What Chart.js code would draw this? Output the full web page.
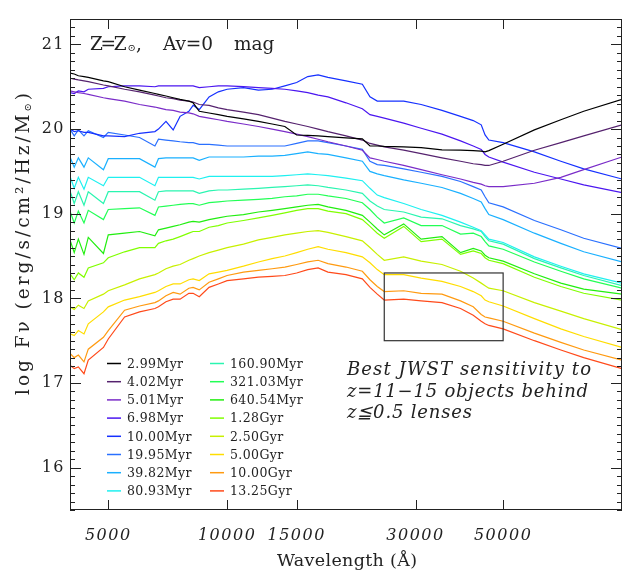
<!DOCTYPE html>
<html>
<head>
<meta charset="utf-8">
<script src="https://cdn.jsdelivr.net/npm/chart.js@4.4.1/dist/chart.umd.min.js"></script>
<style>
  html, body { margin: 0; padding: 0; background: #fff; }
  canvas { display: block; }
</style>
</head>
<body>
<canvas id="sed" width="636" height="576"></canvas>
<script>
// wavelength grid (Angstrom), shared by all spectra
const wavelengths = [4000, 4100, 4200, 4340, 4450, 4861, 5000, 5500, 6000, 6563,
  6700, 7000, 7300, 7600, 8000, 8200, 8500, 9000, 9500, 10000,
  11000, 12000, 13000, 14000, 15000, 16000, 17000, 18000, 20000, 22000,
  23000, 24000, 25000, 28000, 31000, 35000, 39000, 42000, 44000, 45000,
  46000, 50000, 60000, 70000, 80000, 100000];

// log F_nu per solar mass, one array per age
const age2_99 = [20.66, 20.65, 20.63, 20.62, 20.61, 20.57, 20.56, 20.50, 20.46, 20.42,
  20.41, 20.39, 20.37, 20.35, 20.33, 20.31, 20.21, 20.19, 20.17, 20.15,
  20.12, 20.09, 20.06, 20.03, 19.93, 19.925, 19.92, 19.91, 19.895, 19.885,
  19.80, 19.80, 19.795, 19.79, 19.78, 19.755, 19.75, 19.745, 19.74, 19.73,
  19.745, 19.82, 19.99, 20.11, 20.21, 20.35];
const age4_02 = [20.60, 20.59, 20.58, 20.57, 20.56, 20.52, 20.51, 20.47, 20.44, 20.40,
  20.39, 20.37, 20.36, 20.34, 20.33, 20.32, 20.29, 20.28, 20.25, 20.23,
  20.20, 20.17, 20.13, 20.09, 20.06, 20.03, 20.00, 19.97, 19.92, 19.87,
  19.83, 19.81, 19.79, 19.75, 19.71, 19.66, 19.62, 19.59, 19.58, 19.57,
  19.57, 19.62, 19.75, 19.84, 19.92, 20.05];
const age5_01 = [20.45, 20.44, 20.43, 20.42, 20.41, 20.37, 20.36, 20.33, 20.29, 20.26,
  20.25, 20.23, 20.22, 20.20, 20.19, 20.18, 20.15, 20.13, 20.11, 20.09,
  20.06, 20.03, 20.00, 19.97, 19.94, 19.91, 19.88, 19.85, 19.80, 19.75,
  19.66, 19.64, 19.62, 19.57, 19.52, 19.46, 19.41, 19.37, 19.35, 19.33,
  19.32, 19.32, 19.36, 19.43, 19.52, 19.67];
const age6_98 = [20.43, 20.42, 20.45, 20.44, 20.47, 20.48, 20.50, 20.51, 20.51, 20.50,
  20.51, 20.51, 20.51, 20.51, 20.51, 20.51, 20.49, 20.50, 20.51, 20.51,
  20.50, 20.49, 20.48, 20.47, 20.45, 20.43, 20.40, 20.38, 20.31, 20.24,
  20.17, 20.15, 20.13, 20.07, 20.01, 19.94, 19.86, 19.80, 19.76, 19.70,
  19.67, 19.61, 19.49, 19.41, 19.34, 19.25];
const age10_00 = [20.00, 19.97, 19.98, 19.96, 19.96, 19.92, 19.92, 19.91, 19.95, 19.97,
  20.00, 20.09, 19.99, 20.15, 20.21, 20.28, 20.23, 20.38, 20.44, 20.47,
  20.49, 20.46, 20.47, 20.51, 20.55, 20.62, 20.64, 20.61, 20.57, 20.53,
  20.38, 20.33, 20.33, 20.33, 20.29, 20.22, 20.15, 20.10, 20.05, 19.93,
  19.87, 19.84, 19.73, 19.62, 19.53, 19.41];
const age19_95 = [20.00, 19.92, 19.99, 19.92, 19.98, 19.90, 19.96, 19.93, 19.90, 19.80,
  19.88, 19.87, 19.86, 19.85, 19.84, 19.84, 19.82, 19.82, 19.81, 19.80,
  19.80, 19.80, 19.80, 19.80, 19.83, 19.86, 19.86, 19.84, 19.80, 19.76,
  19.62, 19.58, 19.57, 19.53, 19.49, 19.44, 19.38, 19.32, 19.28, 19.20,
  19.13, 19.08, 18.92, 18.81, 18.71, 18.59];
const age39_82 = [19.67, 19.55, 19.66, 19.55, 19.66, 19.52, 19.65, 19.65, 19.65, 19.55,
  19.65, 19.66, 19.66, 19.66, 19.66, 19.66, 19.63, 19.67, 19.67, 19.67,
  19.67, 19.68, 19.68, 19.69, 19.71, 19.73, 19.71, 19.70, 19.66, 19.62,
  19.50, 19.47, 19.45, 19.40, 19.36, 19.31, 19.24, 19.18, 19.14, 19.06,
  18.99, 18.93, 18.77, 18.65, 18.55, 18.43];
const age80_93 = [19.44, 19.30, 19.43, 19.29, 19.43, 19.33, 19.43, 19.43, 19.43, 19.33,
  19.43, 19.43, 19.43, 19.43, 19.43, 19.43, 19.41, 19.44, 19.44, 19.44,
  19.44, 19.44, 19.44, 19.45, 19.46, 19.47, 19.46, 19.45, 19.42, 19.39,
  19.30, 19.22, 19.19, 19.12, 19.05, 18.98, 18.90, 18.84, 18.80, 18.75,
  18.70, 18.66, 18.49, 18.38, 18.29, 18.18];
const age160_90 = [19.27, 19.12, 19.26, 19.10, 19.26, 19.12, 19.26, 19.26, 19.26, 19.16,
  19.26, 19.27, 19.27, 19.27, 19.27, 19.27, 19.24, 19.27, 19.28, 19.28,
  19.29, 19.30, 19.31, 19.32, 19.33, 19.34, 19.33, 19.31, 19.28, 19.24,
  19.15, 19.09, 19.05, 19.02, 18.96, 18.94, 18.86, 18.82, 18.79, 18.73,
  18.68, 18.64, 18.47, 18.36, 18.27, 18.15];
const age321_03 = [19.03, 18.89, 19.03, 18.89, 19.04, 18.93, 19.05, 19.06, 19.07, 18.98,
  19.08, 19.09, 19.10, 19.11, 19.12, 19.12, 19.10, 19.13, 19.14, 19.15,
  19.16, 19.17, 19.18, 19.20, 19.21, 19.23, 19.23, 19.21, 19.18, 19.13,
  19.05, 18.96, 18.89, 18.95, 18.86, 18.86, 18.76, 18.77, 18.73, 18.67,
  18.62, 18.58, 18.43, 18.32, 18.23, 18.12];
const age640_54 = [18.69, 18.54, 18.70, 18.52, 18.72, 18.53, 18.75, 18.77, 18.79, 18.74,
  18.81, 18.83, 18.85, 18.87, 18.90, 18.91, 18.90, 18.93, 18.95, 18.97,
  18.99, 19.02, 19.04, 19.06, 19.08, 19.10, 19.11, 19.08, 19.04, 18.98,
  18.90, 18.82, 18.75, 18.88, 18.70, 18.73, 18.54, 18.59, 18.56, 18.51,
  18.48, 18.44, 18.29, 18.18, 18.11, 18.05];
const age1_28G = [18.29, 18.22, 18.30, 18.25, 18.36, 18.42, 18.48, 18.55, 18.60, 18.60,
  18.65, 18.68, 18.70, 18.73, 18.77, 18.79, 18.79, 18.84, 18.86, 18.89,
  18.92, 18.95, 18.98, 19.01, 19.04, 19.06, 19.06, 19.03, 19.00, 18.93,
  18.85, 18.77, 18.71, 18.85, 18.67, 18.70, 18.52, 18.56, 18.53, 18.48,
  18.45, 18.41, 18.25, 18.14, 18.06, 17.98];
const age2_50G = [17.90, 17.87, 17.92, 17.88, 17.97, 18.05, 18.09, 18.16, 18.23, 18.28,
  18.30, 18.35, 18.38, 18.40, 18.45, 18.47, 18.50, 18.54, 18.57, 18.60,
  18.64, 18.69, 18.72, 18.75, 18.77, 18.79, 18.80, 18.78, 18.73, 18.68,
  18.60, 18.52, 18.45, 18.49, 18.44, 18.40, 18.32, 18.24, 18.18, 18.15,
  18.12, 18.09, 17.95, 17.85, 17.76, 17.63];
const age5_00G = [17.58, 17.56, 17.62, 17.58, 17.70, 17.84, 17.90, 17.98, 18.02, 18.07,
  18.09, 18.14, 18.17, 18.17, 18.22, 18.23, 18.21, 18.29, 18.31, 18.33,
  18.38, 18.43, 18.47, 18.50, 18.54, 18.58, 18.61, 18.58, 18.54, 18.49,
  18.42, 18.34, 18.28, 18.28, 18.24, 18.20, 18.14, 18.08, 18.03, 17.98,
  17.96, 17.91, 17.76, 17.64, 17.55, 17.42];
const age10_00G = [17.35, 17.30, 17.33, 17.25, 17.40, 17.54, 17.62, 17.86, 17.91, 17.95,
  17.97, 18.03, 18.07, 18.05, 18.12, 18.13, 18.10, 18.19, 18.23, 18.27,
  18.31, 18.33, 18.35, 18.37, 18.40, 18.43, 18.45, 18.41, 18.37, 18.32,
  18.22, 18.14, 18.08, 18.09, 18.06, 18.05, 17.97, 17.90, 17.81, 17.78,
  17.77, 17.73, 17.59, 17.48, 17.39, 17.27];
const age13_25G = [17.21, 17.17, 17.19, 17.11, 17.27, 17.42, 17.52, 17.78, 17.84, 17.88,
  17.90, 17.96, 17.99, 17.99, 18.06, 18.06, 18.02, 18.13, 18.17, 18.21,
  18.23, 18.25, 18.26, 18.27, 18.30, 18.34, 18.36, 18.31, 18.28, 18.23,
  18.13, 18.05, 17.98, 17.99, 17.97, 17.95, 17.88, 17.80, 17.73, 17.70,
  17.68, 17.64, 17.50, 17.39, 17.30, 17.17];

const ageLabels = ['2.99Myr', '4.02Myr', '5.01Myr', '6.98Myr', '10.00Myr', '19.95Myr', '39.82Myr', '80.93Myr',
  '160.90Myr', '321.03Myr', '640.54Myr', '1.28Gyr', '2.50Gyr', '5.00Gyr', '10.00Gyr', '13.25Gyr'];
const fluxSeries = [age2_99, age4_02, age5_01, age6_98, age10_00, age19_95, age39_82, age80_93,
  age160_90, age321_03, age640_54, age1_28G, age2_50G, age5_00G, age10_00G, age13_25G];

const xTicks = [5000, 10000, 15000, 30000, 50000];
const yTicks = [16, 17, 18, 19, 20, 21];
// JWST sensitivity box
const boxWave = [25000, 50000];
const boxFlux = [17.5, 18.3];

const lineColors = ['#000000', '#55226e', '#7a2cc8', '#4b16f0', '#1530ff', '#2a70ff', '#1ab0ff', '#1ef0f0',
  '#2af5b0', '#22ff55', '#22ee10', '#80ff00', '#c8f000', '#ffdd00', '#ff9a10', '#ff4a1a'];

const SERIF = '"DejaVu Serif", "Liberation Serif", serif';

function fitText(ctx, text, x, y, width) {
  ctx.letterSpacing = '0px';
  const w = ctx.measureText(text).width;
  const sp = (width - w) / Math.max(1, text.length - 1);
  ctx.letterSpacing = sp.toFixed(2) + 'px';
  ctx.fillText(text, x, y);
  ctx.letterSpacing = '0px';
}

const decor = {
  id: 'decor',
  beforeDraw(chart) {
    chart.ctx.letterSpacing = '1.5px';
  },
  afterDraw(chart) {
    const { ctx, chartArea: a, scales: { x, y } } = chart;
    ctx.save();
    ctx.letterSpacing = '0px';

    // frame + inward ticks
    ctx.strokeStyle = '#222';
    ctx.lineWidth = 1;
    ctx.strokeRect(Math.round(a.left) + 0.5, Math.round(a.top) + 0.5, Math.round(a.width) - 1, Math.round(a.height) - 1);
    ctx.beginPath();
    for (let k = Math.ceil(y.min * 10); k <= Math.floor(y.max * 10); k++) {
      const py = Math.round(y.getPixelForValue(k / 10)) + 0.5;
      const len = k % 10 === 0 ? 11 : 5;
      ctx.moveTo(a.left, py); ctx.lineTo(a.left + len, py);
      ctx.moveTo(a.right, py); ctx.lineTo(a.right - len, py);
    }
    xTicks.forEach(w => {
      const px = Math.round(x.getPixelForValue(w)) + 0.5;
      ctx.moveTo(px, a.bottom); ctx.lineTo(px, a.bottom - 10);
      ctx.moveTo(px, a.top); ctx.lineTo(px, a.top + 10);
    });
    ctx.stroke();

    // sensitivity box
    ctx.strokeStyle = '#333';
    ctx.lineWidth = 1.2;
    const bx0 = x.getPixelForValue(boxWave[0]), bx1 = x.getPixelForValue(boxWave[1]);
    const by0 = y.getPixelForValue(boxFlux[1]), by1 = y.getPixelForValue(boxFlux[0]);
    ctx.strokeRect(bx0, by0, bx1 - bx0, by1 - by0);

    // legend, two columns
    ctx.font = '12.5px ' + SERIF;
    ctx.textBaseline = 'middle';
    ctx.textAlign = 'left';
    ageLabels.forEach((lab, i) => {
      const lx = i < 8 ? 107 : 210;
      const ty = 363.5 + (i % 8) * 18.2;
      ctx.strokeStyle = lineColors[i];
      ctx.lineWidth = 1.5;
      ctx.beginPath();
      ctx.moveTo(lx, ty); ctx.lineTo(lx + 14, ty);
      ctx.stroke();
      ctx.fillStyle = '#222';
      ctx.letterSpacing = '0.4px';
      ctx.fillText(lab, lx + 20, ty + 1);
    });
    ctx.letterSpacing = '0px';

    ctx.fillStyle = '#222';
    ctx.textBaseline = 'alphabetic';

    // panel label
    ctx.font = '18.5px ' + SERIF;
    fitText(ctx, 'Z=Z', 90, 49.5, 36.5);
    ctx.font = '10px ' + SERIF;
    ctx.fillText('\u2299', 127.5, 51);
    ctx.font = '18.5px ' + SERIF;
    ctx.fillText(',', 136, 49.5);
    fitText(ctx, 'Av=0', 163, 49.5, 50);
    ctx.fillText('mag', 234, 49.5);

    // annotation
    ctx.font = 'italic 18px ' + SERIF;
    fitText(ctx, 'Best JWST sensitivity to', 347, 375, 244);
    fitText(ctx, 'z=11\u221215 objects behind', 347, 396.5, 241);
    fitText(ctx, 'z\u22660.5 lenses', 347, 418, 125);

    // x title
    ctx.font = '17.5px ' + SERIF;
    ctx.textAlign = 'left';
    fitText(ctx, 'Wavelength (\u00c5)', 277, 566, 140);

    // y title (rotated)
    ctx.save();
    ctx.translate(29, 244);
    ctx.rotate(-Math.PI / 2);
    const main = 'log F\u03bd (erg/s/cm\u00b2/Hz/M';
    ctx.font = '18.5px ' + SERIF;
    const w1 = ctx.measureText(main).width;
    const w3 = ctx.measureText(')').width;
    ctx.font = '10px ' + SERIF;
    const w2 = ctx.measureText('\u2299').width;
    const total = 302;
    const sp = Math.max(0, (total - w1 - w2 - w3) / (main.length + 1));
    let cx = -total / 2;
    ctx.font = '18.5px ' + SERIF;
    ctx.letterSpacing = sp.toFixed(2) + 'px';
    ctx.fillText(main, cx, 0);
    cx += w1 + sp * main.length;
    ctx.font = '10px ' + SERIF;
    ctx.fillText('\u2299', cx, 2);
    cx += w2 + sp;
    ctx.font = '18.5px ' + SERIF;
    ctx.fillText(')', cx, 0);
    ctx.restore();

    ctx.restore();
    ctx.letterSpacing = '0px';
  }
};

new Chart(document.getElementById('sed'), {
  type: 'line',
  data: {
    datasets: fluxSeries.map((vals, i) => ({
      label: ageLabels[i],
      data: wavelengths.map((w, j) => ({ x: w, y: vals[j] })),
      borderColor: lineColors[i],
      borderWidth: 1.2,
      pointRadius: 0,
      tension: 0,
      fill: false
    }))
  },
  options: {
    responsive: false,
    animation: false,
    devicePixelRatio: 1,
    layout: { padding: { left: 0, right: 14, top: 19, bottom: 0 } },
    plugins: { legend: { display: false }, tooltip: { enabled: false } },
    scales: {
      x: {
        type: 'logarithmic',
        min: 4000,
        max: 100000,
        afterBuildTicks: s => { s.ticks = xTicks.map(v => ({ value: v })); },
        afterFit: s => { s.height = 66; },
        grid: { display: false, drawTicks: false },
        border: { display: false },
        ticks: {
          autoSkip: false,
          maxRotation: 0,
          padding: 16,
          color: '#222',
          font: { family: SERIF, size: 16, style: 'italic' },
          callback: v => String(v)
        }
      },
      y: {
        type: 'linear',
        min: 15.5,
        max: 21.3,
        afterBuildTicks: s => { s.ticks = yTicks.map(v => ({ value: v })); },
        afterFit: s => { s.width = 70; },
        grid: { display: false, drawTicks: false },
        border: { display: false },
        ticks: {
          padding: 5,
          color: '#222',
          font: { family: SERIF, size: 16 },
          callback: v => String(v)
        }
      }
    }
  },
  plugins: [decor]
});
</script>
</body>
</html>
